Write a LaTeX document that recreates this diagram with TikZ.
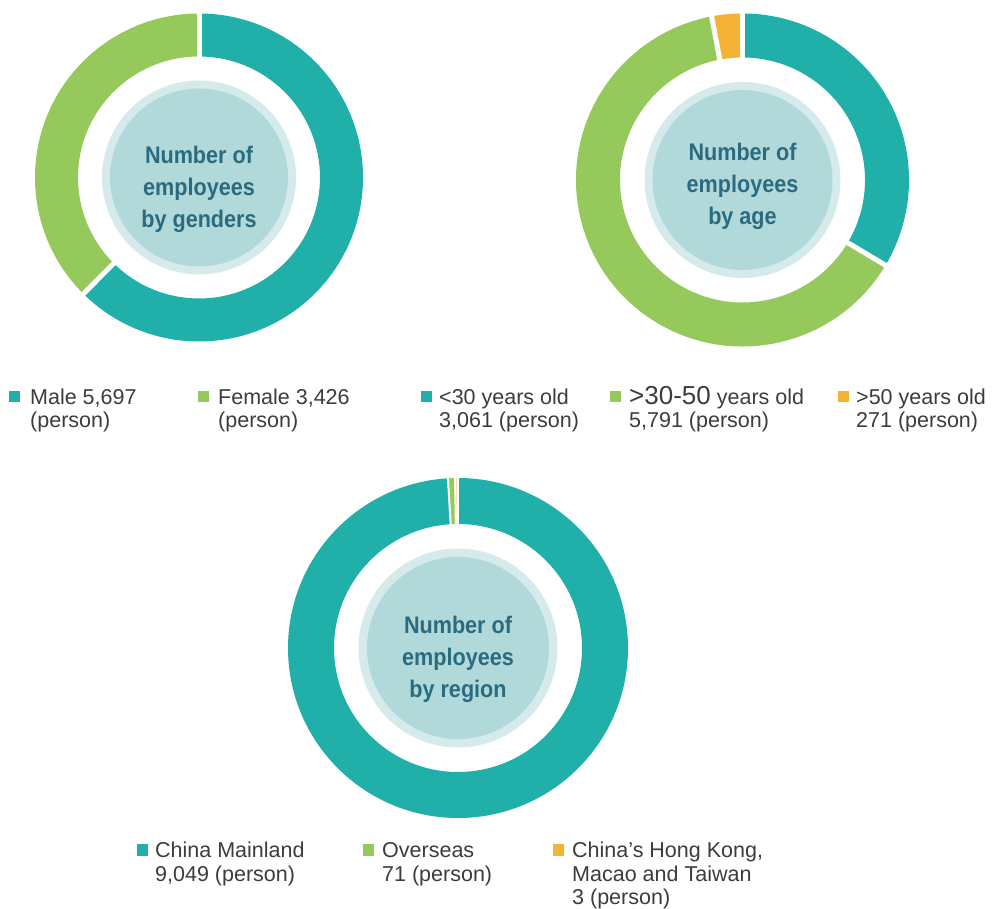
\documentclass[tikz,border=0pt]{standalone}
\usepackage{fontspec}
\setmainfont{Liberation Sans}
\newfontfamily\ctrfont[FakeStretch=0.9]{Liberation Sans Bold}
\usetikzlibrary{calc}
\definecolor{cteal}{HTML}{20AFA9}
\definecolor{cgreen}{HTML}{95C95C}
\definecolor{corange}{HTML}{F5B336}
\definecolor{cring}{HTML}{D5EAEA}
\definecolor{cinner}{HTML}{B1D9D9}
\definecolor{ctext}{HTML}{2B6B7F}
\definecolor{ltext}{HTML}{3C3C3C}
% annulus sector: center, R, r, a1, a2, colour
\newcommand\dseg[6]{\fill[#6] ($(#1)+(#4:#2pt)$) arc[start angle=#4,end angle=#5,radius=#2pt] -- ($(#1)+(#5:#3pt)$) arc[start angle=#5,end angle=#4,radius=#3pt] -- cycle;}
% gap line: center, outer, inner, angle, width
\newcommand\dgap[5]{\draw[white,line width=#5] ($(#1)+(#4:#3pt)$) -- ($(#1)+(#4:#2pt)$);}
\begin{document}
\begin{tikzpicture}[x=1pt,y=1pt,
  sq/.style={draw=none,minimum size=11.5pt,inner sep=0pt},
  leg/.style={anchor=base west,inner sep=0pt,text=ltext,font=\fontsize{21.5}{24}\selectfont},
  ctr/.style={anchor=base,inner sep=0pt,text=ctext,font=\ctrfont\fontsize{24}{32}\selectfont}]
\useasboundingbox (0,0) rectangle (992,909);
% ---------- chart 1: genders ----------
\coordinate (c1) at (199,731.5);
\dseg{c1}{164}{121}{90}{-134.8}{cteal}
\dseg{c1}{164}{121}{-134.8}{-270}{cgreen}
\dgap{c1}{167}{118}{90}{5pt}
\dgap{c1}{167}{118}{-134.8}{5pt}
\fill[cring] (c1) circle (97pt);
\fill[cinner] (c1) circle (89pt);
\node[ctr] (g1) at (199,745) {Number of};
\node[ctr] (g2) at (199,713) {employees};
\node[ctr] (g3) at (199,681) {by genders};
% ---------- chart 2: age ----------
\coordinate (c2) at (742.5,729);
\dseg{c2}{166.5}{122.5}{90}{-30.8}{cteal}
\dseg{c2}{166.5}{122.5}{-30.8}{-259.3}{cgreen}
\dseg{c2}{166.5}{122.5}{-259.3}{-270}{corange}
\dgap{c2}{170}{119}{90}{5pt}
\dgap{c2}{170}{119}{-30.8}{5pt}
\dgap{c2}{170}{119}{-259.3}{5pt}
\fill[cring] (c2) circle (98pt);
\fill[cinner] (c2) circle (90pt);
\node[ctr] (a1) at (742.5,748) {Number of};
\node[ctr] (a2) at (742.5,716) {employees};
\node[ctr] (a3) at (742.5,684) {by age};
% ---------- chart 3: region ----------
\coordinate (c3) at (458,261);
\dseg{c3}{170}{124}{90}{-266.6}{cteal}
\dseg{c3}{170}{124}{-266.6}{-269.0}{cgreen}
\dseg{c3}{170}{124}{-269.0}{-270}{corange!45}
\dgap{c3}{173}{121}{90}{2pt}
\dgap{c3}{173}{121}{-266.6}{2pt}
\dgap{c3}{173}{121}{-269.0}{2pt}
\fill[cring] (c3) circle (99.5pt);
\fill[cinner] (c3) circle (91pt);
\node[ctr] (r1) at (458,275) {Number of};
\node[ctr] (r2) at (458,243) {employees};
\node[ctr] (r3) at (458,211) {by region};
% ---------- legends top ----------
\node[sq,fill=cteal] (s1) at (14.5,512.5) {};
\node[leg] (l1a) at (30,504) {Male 5,697};
\node[leg] (l1b) at (30,481) {(person)};
\node[sq,fill=cgreen] (s2) at (203.5,512.5) {};
\node[leg] (l2a) at (218,504) {Female 3,426};
\node[leg] (l2b) at (218,481) {(person)};
\node[sq,fill=cteal] (s3) at (426.5,512.5) {};
\node[leg] (l3a) at (439,504) {<30 years old};
\node[leg] (l3b) at (439,481) {3,061 (person)};
\node[sq,fill=cgreen] (s4) at (615.5,512.5) {};
\node[leg] (l4a) at (629,504) {{\fontsize{26}{24}\selectfont >30-50} years old};
\node[leg] (l4b) at (629,481) {5,791 (person)};
\node[sq,fill=corange] (s5) at (843.5,512.5) {};
\node[leg] (l5a) at (856,504) {>50 years old};
\node[leg] (l5b) at (856,481) {271 (person)};
% ---------- legends bottom ----------
\node[sq,fill=cteal] (s6) at (142.5,59) {};
\node[leg] (l6a) at (155,51) {China Mainland};
\node[leg] (l6b) at (155,27) {9,049 (person)};
\node[sq,fill=cgreen] (s7) at (368.5,59) {};
\node[leg] (l7a) at (382,51) {Overseas};
\node[leg] (l7b) at (382,27) {71 (person)};
\node[sq,fill=corange] (s8) at (558.5,59) {};
\node[leg] (l8a) at (572,51) {China’s Hong Kong,};
\node[leg] (l8b) at (572,27) {Macao and Taiwan};
\node[leg] (l8c) at (572,4) {3 (person)};
\end{tikzpicture}
\end{document}
